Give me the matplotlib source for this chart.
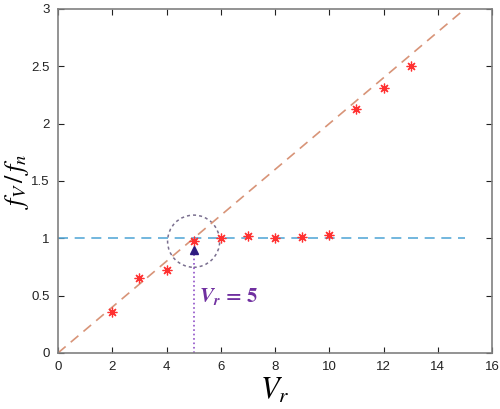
import matplotlib
matplotlib.use("Agg")
import matplotlib.pyplot as plt
from matplotlib.patches import Ellipse

plt.rcParams['font.family'] = ['Liberation Sans', 'DejaVu Sans']
plt.rcParams['mathtext.fontset'] = 'stix'

# measured points
vr = [2, 3, 4, 5, 6, 7, 8, 9, 10, 11, 12, 13]
fratio = [0.36, 0.65, 0.72, 0.98, 1.00, 1.02, 1.00, 1.01, 1.03, 2.13, 2.31, 2.50]

# reference lines
diag_x = [0, 15]
diag_y = [0, 3]
flat_x = [0, 15]
flat_y = [1, 1]

xticks = [0, 2, 4, 6, 8, 10, 12, 14, 16]
yticks = [0, 0.5, 1, 1.5, 2, 2.5, 3]
ytick_labels = ["0", "0.5", "1", "1.5", "2", "2.5", "3"]

fig = plt.figure(figsize=(5, 4.09), dpi=100)
ax = fig.add_axes([0.116, 0.137, 0.868, 0.841])

ax.plot(diag_x, diag_y, color='#D89478', lw=1.2, dashes=(6, 4))
ax.plot(flat_x, flat_y, color='#5AAAD8', lw=1.2, dashes=(6, 4))
ax.plot(vr, fratio, linestyle='none', marker=(8, 2, 0), markersize=7,
        markeredgecolor='#FF3030', markeredgewidth=0.9)

# dotted circle around the transition point
ax.add_patch(Ellipse((5, 0.975), 1.92, 0.455, fill=False, ls=(0, (2, 2)),
                     lw=1.1, edgecolor='#7A6F8F'))

# dotted pointer with arrow head
ax.plot([5, 5], [0, 0.86], color='#9050C8', lw=1.2, ls=':')
ax.plot([5], [0.895], marker='^', markersize=5.5, color='#2E1A80', ls='none')
ax.text(5.2, 0.49, r'$\mathbfit{V_r}\mathbf{\,=\,5}$', color='#7030A0',
        fontsize=15, va='center', ha='left')

ax.set_xlim(0, 16)
ax.set_ylim(0, 3)
ax.set_xticks(xticks)
ax.set_yticks(yticks)
ax.set_yticklabels(ytick_labels)
ax.tick_params(direction='in', top=True, right=True, labelsize=9.5,
               colors='#222222', length=4, pad=6)
for s in ax.spines.values():
    s.set_color('#808080')
    s.set_linewidth(1.2)

ax.set_xlabel(r'$V_r$', fontsize=22, labelpad=2)
ax.set_ylabel(r'$f_V\,/\,f_n$', fontsize=19)
ax.yaxis.set_label_coords(-0.062, 0.5)

fig.savefig('out.png', dpi=100)
